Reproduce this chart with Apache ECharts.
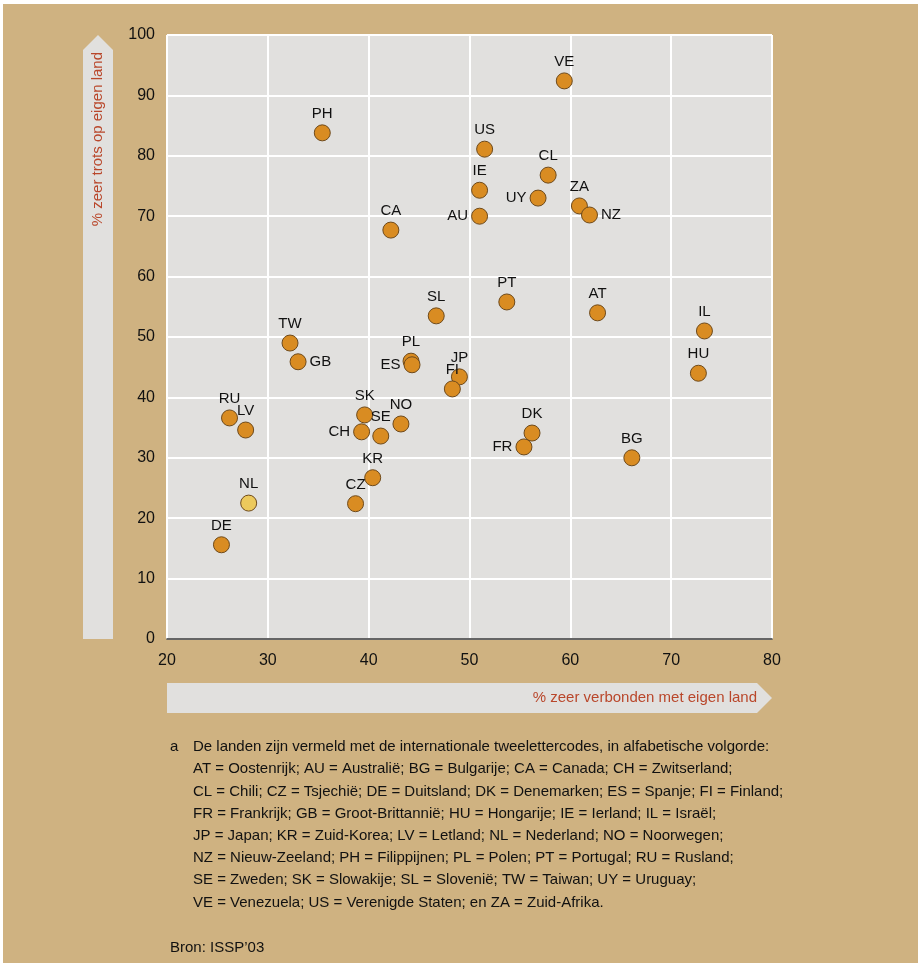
<!DOCTYPE html>
<html>
<head>
<meta charset="utf-8">
<script src="https://cdn.jsdelivr.net/npm/echarts@6/dist/echarts.min.js"></script>
<style>
  html, body { margin: 0; padding: 0; background: #fff; }
  #chart { position: absolute; left: 3px; top: 4px; width: 915px; height: 959px; }
</style>
</head>
<body>
<div id="chart"></div>
<script>
// data
var codes = ['VE','PH','US','CL','IE','UY','ZA','AU','NZ','CA','SL','PT','AT','IL','TW','GB','PL','ES','JP','FI','HU','RU','LV','SK','CH','SE','NO','DK','FR','BG','KR','CZ','NL','DE'];
var verbonden = [59.4,35.4,51.5,57.8,51.0,56.8,60.9,51.0,61.9,42.2,46.7,53.7,62.7,73.3,32.2,33.0,44.2,44.3,49.0,48.3,72.7,26.2,27.8,39.6,39.3,41.2,43.2,56.2,55.4,66.1,40.4,38.7,28.1,25.4];
var trots = [92.4,83.8,81.1,76.8,74.3,73.0,71.7,70.0,70.2,67.7,53.5,55.8,54.0,51.0,49.0,45.9,46.0,45.4,43.4,41.4,44.0,36.6,34.6,37.1,34.3,33.6,35.6,34.1,31.8,30.0,26.7,22.4,22.5,15.6];
var xTicks = [20, 80, 10];
var yTicks = [0, 100, 10];
var highlight = 'NL';

var footnote = [
    'De landen zijn vermeld met de internationale tweelettercodes, in alfabetische volgorde:',
    'AT = Oostenrijk; AU = Australië; BG = Bulgarije; CA = Canada; CH = Zwitserland;',
    'CL = Chili; CZ = Tsjechië; DE = Duitsland; DK = Denemarken; ES = Spanje; FI = Finland;',
    'FR = Frankrijk; GB = Groot-Brittannië; HU = Hongarije; IE = Ierland; IL = Israël;',
    'JP = Japan; KR = Zuid-Korea; LV = Letland; NL = Nederland; NO = Noorwegen;',
    'NZ = Nieuw-Zeeland; PH = Filippijnen; PL = Polen; PT = Portugal; RU = Rusland;',
    'SE = Zweden; SK = Slowakije; SL = Slovenië; TW = Taiwan; UY = Uruguay;',
    'VE = Venezuela; US = Verenigde Staten; en ZA = Zuid-Afrika.'
];

// label placement (style only)
var labelSide = { ES: 'left', AU: 'left', UY: 'left', CH: 'left', FR: 'left', NZ: 'right', GB: 'right' };

var FONT = '"Liberation Sans", Arial, sans-serif';
var TAN = '#cfb281';
var BAND = '#e1e0de';
var RED = '#b9472b';

var points = codes.map(function (c, i) {
    var p = {
        value: [verbonden[i], trots[i]],
        name: c,
        label: { position: labelSide[c] || 'top' }
    };
    if (c === highlight) {
        p.itemStyle = { color: '#ecc95c' };
    }
    return p;
});

var graphics = [
    // y axis arrow
    {
        type: 'polygon',
        shape: { points: [[80, 46], [95, 31], [110, 46], [110, 635], [80, 635]] },
        style: { fill: BAND }
    },
    {
        type: 'text',
        x: 95, y: 48,
        rotation: Math.PI / 2,
        style: { text: '% zeer trots op eigen land', fill: RED, font: '15px ' + FONT, textAlign: 'right', textVerticalAlign: 'middle' }
    },
    // x axis arrow
    {
        type: 'polygon',
        shape: { points: [[164, 679], [754, 679], [769, 694], [754, 709], [164, 709]] },
        style: { fill: BAND }
    },
    {
        type: 'text',
        x: 754, y: 694,
        style: { text: '% zeer verbonden met eigen land', fill: RED, font: '15px ' + FONT, textAlign: 'right', textVerticalAlign: 'middle' }
    },
    {
        type: 'text',
        x: 167, y: 743,
        style: { text: 'a', fill: '#111', font: '15px ' + FONT, textVerticalAlign: 'middle' }
    },
    {
        type: 'text',
        x: 167, y: 944,
        style: { text: 'Bron: ISSP\u201903', fill: '#111', font: '15px ' + FONT, textVerticalAlign: 'middle' }
    }
];

footnote.forEach(function (line, i) {
    graphics.push({
        type: 'text',
        x: 190, y: 743 + i * 22.2,
        style: { text: line, fill: '#111', font: '15px ' + FONT, textVerticalAlign: 'middle' }
    });
});

var myChart = echarts.init(document.getElementById('chart'));
var option = {
    backgroundColor: TAN,
    animation: false,
    grid: {
        left: 164, top: 31, width: 605, height: 604,
        show: true, backgroundColor: BAND, borderWidth: 0
    },
    xAxis: {
        type: 'value',
        min: xTicks[0], max: xTicks[1], interval: xTicks[2],
        axisLine: { show: true, onZero: false, lineStyle: { color: '#333', width: 1.5 } },
        axisTick: { show: false },
        axisLabel: { color: '#111', fontSize: 16, fontFamily: FONT, margin: 14 },
        splitLine: { show: true, lineStyle: { color: '#fff', width: 2 } }
    },
    yAxis: {
        type: 'value',
        min: yTicks[0], max: yTicks[1], interval: yTicks[2],
        axisLine: { show: false },
        axisTick: { show: false },
        axisLabel: { color: '#111', fontSize: 16, fontFamily: FONT, margin: 12 },
        splitLine: { show: true, lineStyle: { color: '#fff', width: 2 } }
    },
    series: [
        {
            type: 'scatter',
            symbolSize: 16,
            data: points,
            itemStyle: { color: '#d98c22', borderColor: '#6e4a1c', borderWidth: 1, opacity: 1 },
            label: {
                show: true,
                formatter: '{b}',
                color: '#111',
                fontSize: 15,
                fontFamily: FONT,
                distance: 3
            }
        }
    ],
    graphic: graphics
};
myChart.setOption(option);
</script>
</body>
</html>
